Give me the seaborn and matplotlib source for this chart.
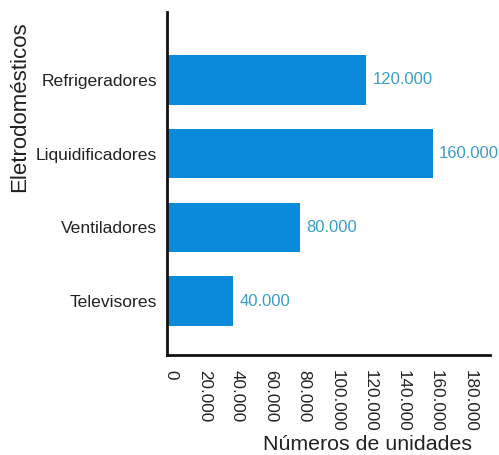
import matplotlib
matplotlib.use("Agg")
import matplotlib.pyplot as plt
import matplotlib.transforms as mtransforms
import seaborn as sns
import pandas as pd

categorias = ["Refrigeradores", "Liquidificadores", "Ventiladores", "Televisores"]
unidades = [120000, 160000, 80000, 40000]
rotulos_x = ["0", "20.000", "40.000", "60.000", "80.000", "100.000",
             "120.000", "140.000", "160.000", "180.000"]
valores_x = [0, 20000, 40000, 60000, 80000, 100000, 120000, 140000, 160000, 180000]

sns.set_style("white")
plt.rcParams["font.family"] = ["Liberation Sans", "DejaVu Sans"]

df = pd.DataFrame({"Eletrodoméstico": categorias, "Unidades": unidades})

fig = plt.figure(figsize=(4.99, 4.55), dpi=100)
ax = fig.add_axes([0.3347, 0.2198, 0.6473, 0.7538])

sns.barplot(data=df, y="Eletrodoméstico", x="Unidades", orient="h",
            color="#0a8ad8", saturation=1, width=0.67, linewidth=0, ax=ax)

for i, v in enumerate(unidades):
    ax.text(v + 3600, i, f"{v:,}".replace(",", "."), va="center", ha="left",
            fontsize=12, color="#3a9ec9")

ax.set_xlim(0, 194500)
ax.set_ylim(3.73, -0.92)
ax.set_xticks(valores_x)
ax.set_xticklabels(rotulos_x, rotation=270, fontsize=12.3, color="#222222")
ax.tick_params(axis="y", labelsize=12.6, labelcolor="#222222", length=0, pad=7)
ax.tick_params(axis="x", length=0, pad=11)
ax.set_xlabel("")
ax.set_ylabel("")

shift = mtransforms.ScaledTranslation(4 / 100, 0, fig.dpi_scale_trans)
for lbl in ax.get_xticklabels():
    lbl.set_transform(lbl.get_transform() + shift)

for s in ["top", "right"]:
    ax.spines[s].set_visible(False)
for s in ["left", "bottom"]:
    ax.spines[s].set_color("#111111")
    ax.spines[s].set_linewidth(2)

fig.text(0.04, 0.765, "Eletrodomésticos", rotation=90, ha="center", va="center",
         fontsize=16, color="#222222")
fig.text(0.737, 0.024, "Números de unidades", ha="center", va="center",
         fontsize=15.4, color="#222222")

fig.savefig("out.png", dpi=100)
